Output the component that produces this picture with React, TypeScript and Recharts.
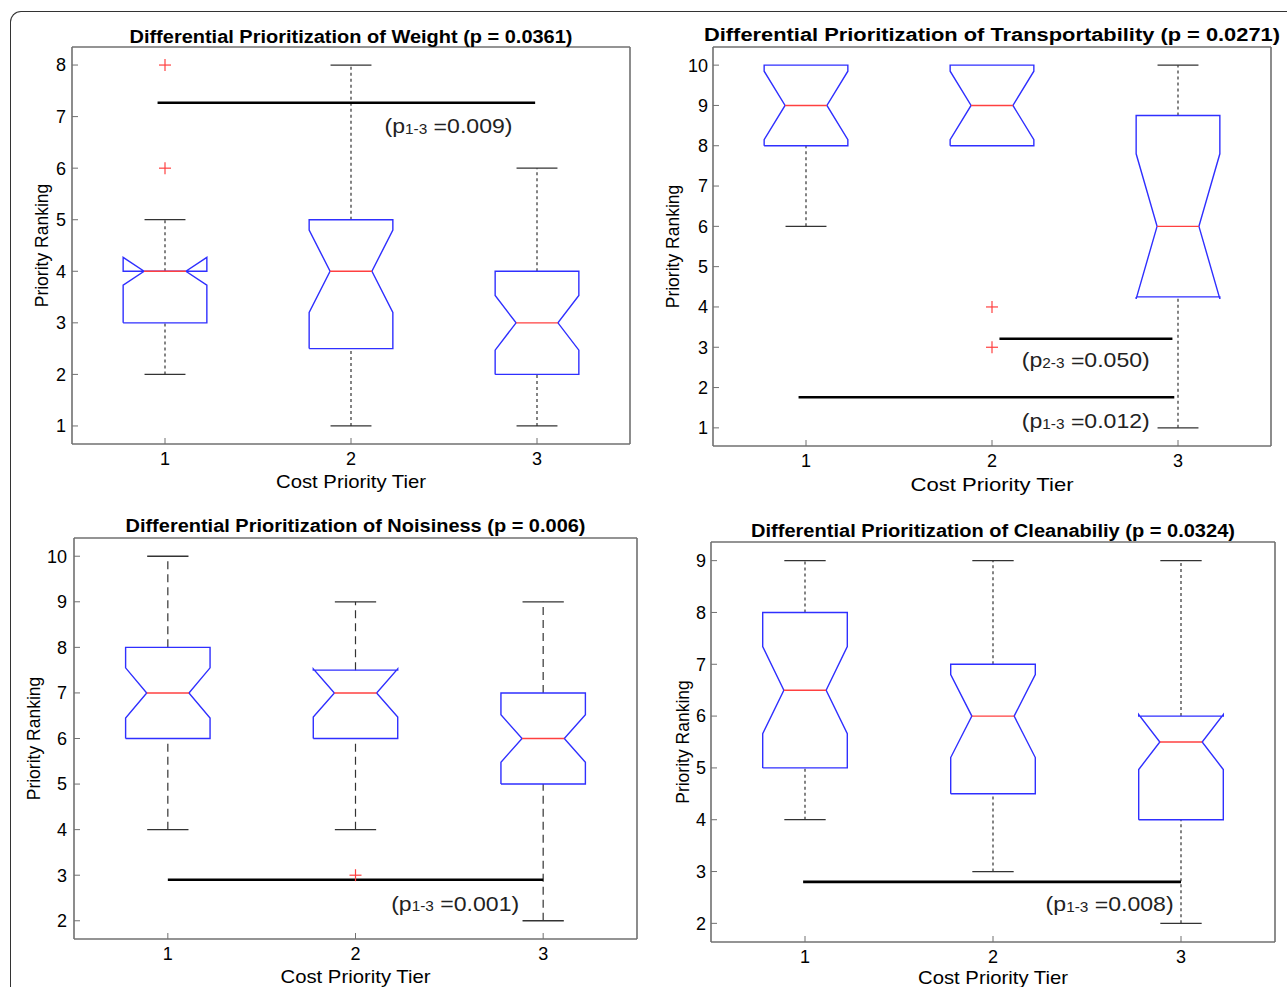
import React from 'react';
import { ComposedChart, Line, Scatter, XAxis, YAxis } from 'recharts';

const FONT = '"Liberation Sans", Arial, Helvetica, sans-serif';

const tiers = [1, 2, 3];

// Weight
const weightQ1 = [3, 2.5, 2];
const weightMedian = [4, 4, 3];
const weightQ3 = [4, 5, 4];
const weightNotch = [0.27, 0.8, 0.53];
const weightLow = [2, 1, 1];
const weightHigh = [5, 8, 6];
const weightOutliers = [[8, 6], [], []];
const weightTicks = [1, 2, 3, 4, 5, 6, 7, 8];
const weightSig = [{ from: 0.96, to: 2.99, y: 7.27, pair: '1-3', p: '0.009', tx: 2.18, ty: 6.82 }];

// Transportability
const transQ1 = [8, 8, 4.25];
const transMedian = [9, 9, 6];
const transQ3 = [10, 10, 8.75];
const transNotch = [0.85, 0.85, 1.8];
const transLow = [6, 8, 1];
const transHigh = [10, 10, 10];
const transOutliers = [[], [4, 3], []];
const transTicks = [1, 2, 3, 4, 5, 6, 7, 8, 9, 10];
const transSig = [
  { from: 2.04, to: 2.97, y: 3.21, pair: '2-3', p: '0.050', tx: 2.16, ty: 2.69 },
  { from: 0.96, to: 2.98, y: 1.76, pair: '1-3', p: '0.012', tx: 2.16, ty: 1.18 },
];

// Noisiness
const noiseQ1 = [6, 6, 5];
const noiseMedian = [7, 7, 6];
const noiseQ3 = [8, 7.5, 7];
const noiseNotch = [0.55, 0.53, 0.52];
const noiseLow = [4, 4, 2];
const noiseHigh = [10, 9, 9];
const noiseOutliers = [[], [3], []];
const noiseTicks = [2, 3, 4, 5, 6, 7, 8, 9, 10];
const noiseSig = [{ from: 1.0, to: 3.0, y: 2.9, pair: '1-3', p: '0.001', tx: 2.19, ty: 2.39 }];

// Cleanability
const cleanQ1 = [5, 4.5, 4];
const cleanMedian = [6.5, 6, 5.5];
const cleanQ3 = [8, 7, 6];
const cleanNotch = [0.84, 0.8, 0.53];
const cleanLow = [4, 3, 2];
const cleanHigh = [9, 9, 9];
const cleanOutliers = [[], [], []];
const cleanTicks = [2, 3, 4, 5, 6, 7, 8, 9];
const cleanSig = [{ from: 0.99, to: 3.0, y: 2.8, pair: '1-3', p: '0.008', tx: 2.28, ty: 2.38 }];

const BOX_HALF = 0.225;
const CAP_HALF = 0.11;
const BLUE = '#2f2fff';
const RED = '#ff4040';
const AXIS = '#707070';

const outline = (x: number, q1: number, med: number, q3: number, notch: number) => {
  const w = BOX_HALF;
  const n = w / 2;
  const lo = med - notch;
  const hi = med + notch;
  return [
    { x: x - w, y: q1 }, { x: x + w, y: q1 }, { x: x + w, y: lo }, { x: x + n, y: med },
    { x: x + w, y: hi }, { x: x + w, y: q3 }, { x: x - w, y: q3 }, { x: x - w, y: hi },
    { x: x - n, y: med }, { x: x - w, y: lo }, { x: x - w, y: q1 },
  ];
};

const seg = (x1: number, y1: number, x2: number, y2: number) => [{ x: x1, y: y1 }, { x: x2, y: y2 }];

const plus = (p: any) => (
  <g>
    <line x1={p.cx - 6} x2={p.cx + 6} y1={p.cy} y2={p.cy} stroke={RED} strokeWidth={1.2} />
    <line x1={p.cx} x2={p.cx} y1={p.cy - 6} y2={p.cy + 6} stroke={RED} strokeWidth={1.2} />
  </g>
);

const note = (p: any) => (
  <text x={p.cx} y={p.cy} dominantBaseline="central" fontFamily={FONT} fontSize={21} fill="#222"
    textLength={128} lengthAdjust="spacingAndGlyphs">
    (p<tspan fontSize={14} dy={3}>{p.payload.pair}</tspan>
    <tspan dy={-3}> =</tspan>{p.payload.p})
  </text>
);

interface PanelProps {
  left: number; top: number; width: number; height: number;
  margin: { top: number; right: number; bottom: number; left: number };
  yDomain: [number, number]; yTicks: number[]; yTickMargin: number;
  title: string; titleY: number; titleW: number; xTitleY: number; xTitleW: number; yTitleX: number; dash: string;
  q1: number[]; med: number[]; q3: number[]; notch: number[]; low: number[]; high: number[];
  outliers: number[][]; sig: any[];
}

const Panel = (s: PanelProps) => {
  // margins given are the plot frame; axes take 1px each
  const m = { top: s.margin.top - 1, right: s.margin.right - 1, bottom: s.margin.bottom - 1, left: s.margin.left - 1 };
  const plotCx = s.margin.left + (s.width - s.margin.left - s.margin.right) / 2;
  const plotCy = s.margin.top + (s.height - s.margin.top - s.margin.bottom) / 2;
  const lines: React.ReactNode[] = [];
  tiers.forEach((t, i) => {
    if (s.high[i] > s.q3[i]) {
      lines.push(<Line key={`wu${i}`} data={seg(t, s.q3[i], t, s.high[i])} dataKey="y" stroke="#333" strokeWidth={1.2} strokeDasharray={s.dash} dot={false} activeDot={false} isAnimationActive={false} />);
      lines.push(<Line key={`cu${i}`} data={seg(t - CAP_HALF, s.high[i], t + CAP_HALF, s.high[i])} dataKey="y" stroke="#333" strokeWidth={1.3} dot={false} activeDot={false} isAnimationActive={false} />);
    }
    if (s.low[i] < s.q1[i]) {
      lines.push(<Line key={`wl${i}`} data={seg(t, s.low[i], t, s.q1[i])} dataKey="y" stroke="#333" strokeWidth={1.2} strokeDasharray={s.dash} dot={false} activeDot={false} isAnimationActive={false} />);
      lines.push(<Line key={`cl${i}`} data={seg(t - CAP_HALF, s.low[i], t + CAP_HALF, s.low[i])} dataKey="y" stroke="#333" strokeWidth={1.3} dot={false} activeDot={false} isAnimationActive={false} />);
    }
    lines.push(<Line key={`b${i}`} data={outline(t, s.q1[i], s.med[i], s.q3[i], s.notch[i])} dataKey="y" stroke={BLUE} strokeWidth={1.4} dot={false} activeDot={false} isAnimationActive={false} />);
    lines.push(<Line key={`m${i}`} data={seg(t - BOX_HALF / 2, s.med[i], t + BOX_HALF / 2, s.med[i])} dataKey="y" stroke={RED} strokeWidth={1.4} dot={false} activeDot={false} isAnimationActive={false} />);
  });
  const outlierPts = tiers.flatMap((t, i) => s.outliers[i].map((v) => ({ x: t, y: v })));
  const notes = s.sig.map((g) => ({ x: g.tx, y: g.ty, pair: g.pair, p: g.p }));
  const tickStyle = { fill: '#000', fontSize: 18, fontFamily: FONT };
  const axisLine = { stroke: AXIS, strokeWidth: 1.6 };

  return (
    <div style={{ position: 'absolute', left: s.left, top: s.top, width: s.width, height: s.height }}>
      <ComposedChart width={s.width} height={s.height} margin={m}>
        <XAxis xAxisId={0} dataKey="x" type="number" domain={[0.5, 3.5]} ticks={tiers} height={1}
          axisLine={axisLine} tickSize={-6} tickMargin={14} tick={tickStyle} tickLine={{ stroke: AXIS }} />
        <XAxis xAxisId="top" orientation="top" dataKey="x" type="number" domain={[0.5, 3.5]} ticks={tiers} height={1}
          axisLine={axisLine} tickLine={{ stroke: AXIS }} tickSize={-6} tickFormatter={() => ''} />
        <YAxis yAxisId={0} dataKey="y" type="number" domain={s.yDomain} ticks={s.yTicks} width={1}
          axisLine={axisLine} tickSize={-6} tickMargin={s.yTickMargin + 1} tick={tickStyle} tickLine={{ stroke: AXIS }} />
        <YAxis yAxisId="right" orientation="right" dataKey="y" type="number" domain={s.yDomain} ticks={s.yTicks} width={1}
          axisLine={axisLine} tickLine={{ stroke: AXIS }} tickSize={-6} tickFormatter={() => ''} />
        {lines}
        {s.sig.map((g, k) => (
          <Line key={`s${k}`} data={seg(g.from, g.y, g.to, g.y)} dataKey="y" stroke="#000" strokeWidth={2.6}
            dot={false} activeDot={false} isAnimationActive={false} />
        ))}
        <Scatter data={outlierPts} dataKey="y" shape={plus} isAnimationActive={false} />
        <Scatter data={notes} dataKey="y" shape={note} isAnimationActive={false} />
      </ComposedChart>
      <svg width={s.width} height={s.height} style={{ position: 'absolute', left: 0, top: 0, overflow: 'visible', pointerEvents: 'none' }}>
        <text x={plotCx} y={s.titleY} textAnchor="middle" dominantBaseline="central" fontFamily={FONT} fontSize={18} fontWeight="bold" fill="#000"
          textLength={s.titleW} lengthAdjust="spacingAndGlyphs">
          {s.title}
        </text>
        <text x={plotCx} y={s.xTitleY} textAnchor="middle" dominantBaseline="central" fontFamily={FONT} fontSize={18.5} fill="#000"
          textLength={s.xTitleW} lengthAdjust="spacingAndGlyphs">
          Cost Priority Tier
        </text>
        <text x={s.yTitleX} y={plotCy} textAnchor="middle" dominantBaseline="central" fontFamily={FONT} fontSize={17.5} fill="#000"
          transform={`rotate(-90 ${s.yTitleX} ${plotCy})`}>
          Priority Ranking
        </text>
      </svg>
    </div>
  );
};

export default function App() {
  return (
    <div style={{ position: 'absolute', left: 0, top: 0, width: 1287, height: 987, background: '#fff', overflow: 'hidden' }}>
      <div style={{ position: 'absolute', left: 10, top: 11, width: 1290, height: 990, borderLeft: '1.6px solid #333', borderTop: '1.6px solid #333', borderTopLeftRadius: 11 }} />
      <Panel left={0} top={0} width={645} height={500} margin={{ top: 47, right: 15, bottom: 56, left: 72 }}
        yDomain={[0.65, 8.35]} yTicks={weightTicks} yTickMargin={11}
        title="Differential Prioritization of Weight (p = 0.0361)" titleY={37} titleW={443} xTitleY={481} xTitleW={150} yTitleX={42} dash="3 3"
        q1={weightQ1} med={weightMedian} q3={weightQ3} notch={weightNotch} low={weightLow} high={weightHigh}
        outliers={weightOutliers} sig={weightSig} />
      <Panel left={645} top={0} width={642} height={500} margin={{ top: 47, right: 16, bottom: 54, left: 68 }}
        yDomain={[0.55, 10.45]} yTicks={transTicks} yTickMargin={10}
        title="Differential Prioritization of Transportability (p = 0.0271)" titleY={35} titleW={576} xTitleY={484} xTitleW={163} yTitleX={28} dash="3 3"
        q1={transQ1} med={transMedian} q3={transQ3} notch={transNotch} low={transLow} high={transHigh}
        outliers={transOutliers} sig={transSig} />
      <Panel left={0} top={500} width={645} height={487} margin={{ top: 38, right: 8, bottom: 48, left: 74 }}
        yDomain={[1.6, 10.4]} yTicks={noiseTicks} yTickMargin={12}
        title="Differential Prioritization of Noisiness (p = 0.006)" titleY={26} titleW={460} xTitleY={476} xTitleW={150} yTitleX={34} dash="8 5"
        q1={noiseQ1} med={noiseMedian} q3={noiseQ3} notch={noiseNotch} low={noiseLow} high={noiseHigh}
        outliers={noiseOutliers} sig={noiseSig} />
      <Panel left={645} top={500} width={642} height={487} margin={{ top: 42, right: 12, bottom: 45, left: 66 }}
        yDomain={[1.64, 9.36]} yTicks={cleanTicks} yTickMargin={10}
        title="Differential Prioritization of Cleanabiliy (p = 0.0324)" titleY={31} titleW={484} xTitleY={477} xTitleW={150} yTitleX={38} dash="3 3"
        q1={cleanQ1} med={cleanMedian} q3={cleanQ3} notch={cleanNotch} low={cleanLow} high={cleanHigh}
        outliers={cleanOutliers} sig={cleanSig} />
    </div>
  );
}
